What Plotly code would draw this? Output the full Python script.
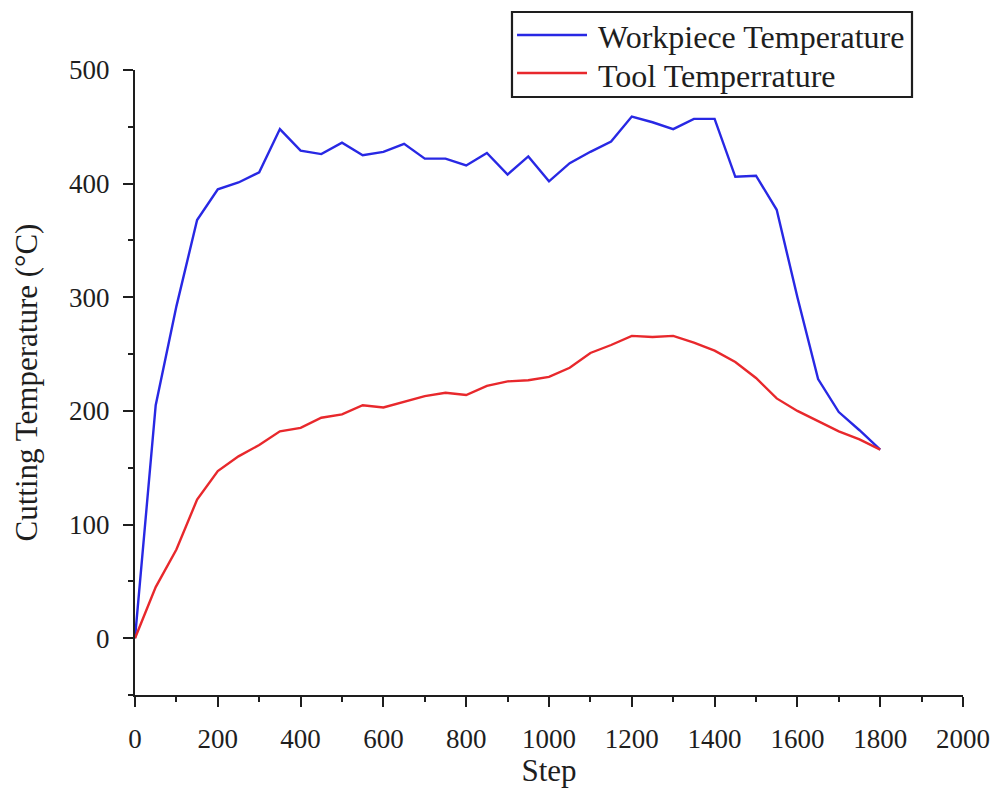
import plotly.graph_objects as go

# Simulation output: cutting temperature sampled every 50 steps
steps = list(range(0, 1801, 50))
workpiece_temp = [0, 205, 292, 368, 395, 401, 410, 448, 429, 426,
                  436, 425, 428, 435, 422, 422, 416, 427, 408, 424,
                  402, 418, 428, 437, 459, 454, 448, 457, 457, 406,
                  407, 377, 300, 228, 199, 183, 166]
tool_temp = [0, 45, 78, 122, 147, 160, 170, 182, 185, 194,
             197, 205, 203, 208, 213, 216, 214, 222, 226, 227,
             230, 238, 251, 258, 266, 265, 266, 260, 253, 243,
             229, 211, 200, 191, 182, 175, 166]

series_names = ["Workpiece Temperature", "Tool Temperrature"]
series_colors = ["rgb(40,40,228)", "rgb(232,40,44)"]

x_ticks = list(range(0, 2001, 200))
y_ticks = list(range(0, 501, 100))

FONT = "Liberation Serif, Times New Roman, serif"
INK = "#1e1e1e"

fig = go.Figure()
for name, ys, color in zip(series_names, [workpiece_temp, tool_temp], series_colors):
    fig.add_trace(go.Scatter(
        x=steps, y=ys, name=name, mode="lines",
        line=dict(color=color, width=2.4),
        showlegend=False,
    ))

axis_common = dict(
    showline=True, linecolor=INK, linewidth=2.2,
    ticks="outside", tickcolor=INK, tickwidth=2, ticklen=10,
    showgrid=False, zeroline=False, mirror=False, automargin=False,
    tickfont=dict(family=FONT, size=27, color=INK),
)

fig.update_xaxes(
    range=[0, 2000], tickvals=x_ticks,
    minor=dict(dtick=100, ticks="outside", ticklen=5, tickwidth=2, tickcolor=INK),
    ticklabelstandoff=8,
    title=dict(text="Step", font=dict(family=FONT, size=31, color=INK), standoff=6),
    **axis_common,
)
fig.update_yaxes(
    range=[-50, 500], tickvals=y_ticks,
    minor=dict(dtick=50, ticks="outside", ticklen=5, tickwidth=2, tickcolor=INK),
    ticklabelstandoff=8,
    title=dict(text="Cutting Temperature (°C)", font=dict(family=FONT, size=31, color=INK), standoff=22),
    **axis_common,
)

# Legend box drawn with paper-referenced shapes and text
box = dict(x0=0.4553, x1=0.9384, y0=0.9568, y1=1.0928)
sample_x = (0.4614, 0.5459)
row_y = [1.056, 0.9952]
shapes = [dict(type="rect", xref="paper", yref="paper", **box,
               line=dict(color=INK, width=2.2), fillcolor="white", layer="above")]
annotations = []
for name, color, yy in zip(series_names, series_colors, row_y):
    shapes.append(dict(type="line", xref="paper", yref="paper",
                       x0=sample_x[0], x1=sample_x[1], y0=yy, y1=yy,
                       line=dict(color=color, width=2.4), layer="above"))
    annotations.append(dict(xref="paper", yref="paper", x=0.557, y=yy - 0.004,
                            xanchor="left", yanchor="middle", showarrow=False,
                            text=name, font=dict(family=FONT, size=32, color=INK)))

fig.update_layout(
    width=998, height=794,
    margin=dict(l=135, r=35, t=70, b=99),
    paper_bgcolor="white", plot_bgcolor="white",
    shapes=shapes, annotations=annotations,
    showlegend=False,
)

fig.write_html("out.html")
